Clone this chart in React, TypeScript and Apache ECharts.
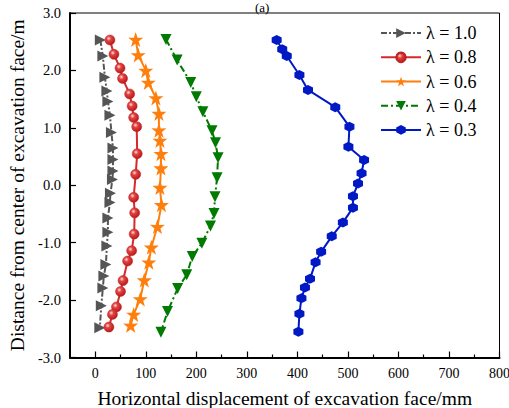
import React, { useEffect, useRef } from "react";
import * as echarts from "echarts";

// ---- data (x: horizontal displacement mm, y: distance m) ----
const seriesNames = ["λ = 1.0", "λ = 0.8", "λ = 0.6", "λ = 0.4", "λ = 0.3"];

const grayX = [10, 15, 19, 23, 25, 29, 32, 35, 35, 35, 34, 30, 29, 25, 25, 23, 21, 17, 15, 12, 9];
const grayY = [2.53, 2.25, 1.88, 1.64, 1.46, 1.22, 0.92, 0.65, 0.45, 0.25, 0.1, -0.14, -0.3, -0.57, -0.82, -1.06, -1.38, -1.58, -1.79, -2.1, -2.48];

const redX = [29, 37, 49, 54, 68, 73, 76, 82, 83, 80, 76, 78, 77, 72, 64, 55, 50, 42, 34, 27];
const redY = [2.53, 2.28, 2.04, 1.86, 1.59, 1.38, 1.18, 1.02, 0.55, 0.19, -0.21, -0.48, -0.85, -1.14, -1.32, -1.66, -1.85, -2.12, -2.25, -2.47];

const orangeX = [80, 85, 100, 105, 120, 126, 126, 128, 130, 130, 128, 131, 123, 111, 106, 97, 89, 76, 70];
const orangeY = [2.54, 2.27, 2.0, 1.79, 1.52, 1.25, 0.96, 0.78, 0.55, 0.3, -0.04, -0.34, -0.72, -1.08, -1.34, -1.65, -1.98, -2.25, -2.44];

const greenX = [140, 162, 189, 200, 213, 231, 238, 243, 241, 237, 235, 228, 211, 192, 181, 163, 143, 130];
const greenY = [2.54, 2.18, 1.79, 1.54, 1.28, 0.95, 0.74, 0.48, 0.13, -0.2, -0.49, -0.71, -1.01, -1.24, -1.56, -1.8, -2.2, -2.56];

const blueX = [359, 370, 379, 404, 421, 475, 503, 501, 532, 527, 520, 510, 510, 490, 468, 447, 436, 425, 415, 408, 404, 402];
const blueY = [2.53, 2.37, 2.25, 1.92, 1.66, 1.36, 1.02, 0.67, 0.44, 0.21, 0.03, -0.19, -0.39, -0.65, -0.89, -1.16, -1.34, -1.63, -1.78, -1.97, -2.24, -2.55];

const xMajorTicks = [0, 100, 200, 300, 400, 500, 600, 700, 800];
const xMinorTicks = [50, 150, 250, 350, 450, 550, 650, 750];

const xName = "Horizontal displacement of excavation face/mm";
const yName = "Distance from center of excavation face/m";
const titleText = "(a)";

const FONT = "Liberation Serif, Times New Roman, DejaVu Serif, serif";
const STAR = "path://M50,0 L61.8,35.1 L97.6,34.5 L69.1,56.7 L79.4,90.5 L50,70 L20.6,90.5 L30.9,56.7 L2.4,34.5 L38.2,35.1 Z";
const HEX = "path://M50,0 L93.3,25 L93.3,75 L50,100 L6.7,75 L6.7,25 Z";

const pairs = (xs: number[], ys: number[]) => xs.map((x, i) => [x, ys[i]]);

export default function App() {
  const ref = useRef<HTMLDivElement>(null);
  useEffect(() => {
    if (!ref.current) return;
    const chart = echarts.init(ref.current, null, { renderer: "svg" });
    const redBall = {
      type: "radial",
      x: 0.38,
      y: 0.35,
      r: 0.65,
      colorStops: [
        { offset: 0, color: "#ffe0e0" },
        { offset: 0.35, color: "#e24444" },
        { offset: 1, color: "#b81a1a" },
      ],
    };
    chart.setOption({
      animation: false,
      textStyle: { fontFamily: FONT },
      title: {
        text: titleText,
        left: 250,
        top: -4,
        textStyle: { fontFamily: FONT, fontSize: 13, fontWeight: "normal", color: "#000" },
      },
      grid: {
        left: 70,
        right: 9.5,
        top: 13,
        bottom: 50.5,
        outerBoundsMode: "none",
        containLabel: false,
        show: true,
        borderColor: "#000",
        borderWidth: 1,
        backgroundColor: "transparent",
      },
      legend: {
        orient: "vertical",
        left: 375,
        top: 19,
        itemWidth: 40,
        itemHeight: 12,
        itemGap: 6,
        textStyle: { fontFamily: FONT, fontSize: 18, lineHeight: 18.2, color: "#000" },
        data: seriesNames,
      },
      xAxis: [
        {
          type: "value",
          min: -50,
          max: 800,
          name: xName,
          nameLocation: "middle",
          nameGap: 31,
          nameTextStyle: { fontFamily: FONT, fontSize: 19.5, color: "#000" },
          axisLine: { show: true, onZero: false, lineStyle: { color: "#000", width: 2 } },
          axisTick: { show: true, inside: true, length: 6, customValues: xMajorTicks, lineStyle: { color: "#000", width: 1.2 } },
          axisLabel: { customValues: xMajorTicks, fontFamily: FONT, fontSize: 14, color: "#000", margin: 9 },
          splitLine: { show: false },
        },
        {
          type: "value",
          min: -50,
          max: 800,
          position: "bottom",
          axisLine: { show: false, onZero: false },
          axisTick: { show: true, inside: true, length: 3, customValues: xMinorTicks, lineStyle: { color: "#000", width: 1.2 } },
          axisLabel: { show: false },
          splitLine: { show: false },
        },
      ],
      yAxis: {
        type: "value",
        min: -3,
        max: 3,
        interval: 1,
        name: yName,
        nameLocation: "middle",
        nameGap: 40,
        nameTextStyle: { fontFamily: FONT, fontSize: 19.5, color: "#000" },
        axisLine: { show: true, onZero: false, lineStyle: { color: "#000", width: 2 } },
        axisTick: { show: true, inside: true, length: 6, lineStyle: { color: "#000", width: 1.2 } },
        axisLabel: {
          fontFamily: FONT,
          fontSize: 14.5,
          color: "#000",
          margin: 9,
          formatter: (v: number) => v.toFixed(1),
        },
        splitLine: { show: false },
      },
      series: [
        {
          name: seriesNames[0],
          type: "line",
          data: pairs(grayX, grayY),
          symbol: "triangle",
          symbolRotate: -90,
          symbolSize: 11,
          itemStyle: { color: "#555555" },
          lineStyle: { color: "#555555", width: 2, type: [6, 2, 2, 2] },
        },
        {
          name: seriesNames[1],
          type: "line",
          data: pairs(redX, redY),
          symbol: "circle",
          symbolSize: 10,
          itemStyle: { color: redBall, borderColor: "#c02020", borderWidth: 0.5 },
          lineStyle: { color: "#d42a2a", width: 2 },
        },
        {
          name: seriesNames[2],
          type: "line",
          data: pairs(orangeX, orangeY),
          symbol: STAR,
          symbolSize: 15,
          itemStyle: { color: "#ff7f0e" },
          lineStyle: { color: "#ff7f0e", width: 2 },
        },
        {
          name: seriesNames[3],
          type: "line",
          data: pairs(greenX, greenY),
          symbol: "triangle",
          symbolRotate: 180,
          symbolSize: 11,
          itemStyle: { color: "#007a00" },
          lineStyle: { color: "#007a00", width: 2, type: [7, 3, 2, 3] },
        },
        {
          name: seriesNames[4],
          type: "line",
          data: pairs(blueX, blueY),
          symbol: HEX,
          symbolSize: 10,
          itemStyle: { color: "#0019c4" },
          lineStyle: { color: "#0019c4", width: 2 },
        },
      ],
    });
    return () => chart.dispose();
  }, []);
  return <div ref={ref} style={{ width: 509, height: 408, position: "absolute", left: 0, top: 0 }} />;
}
